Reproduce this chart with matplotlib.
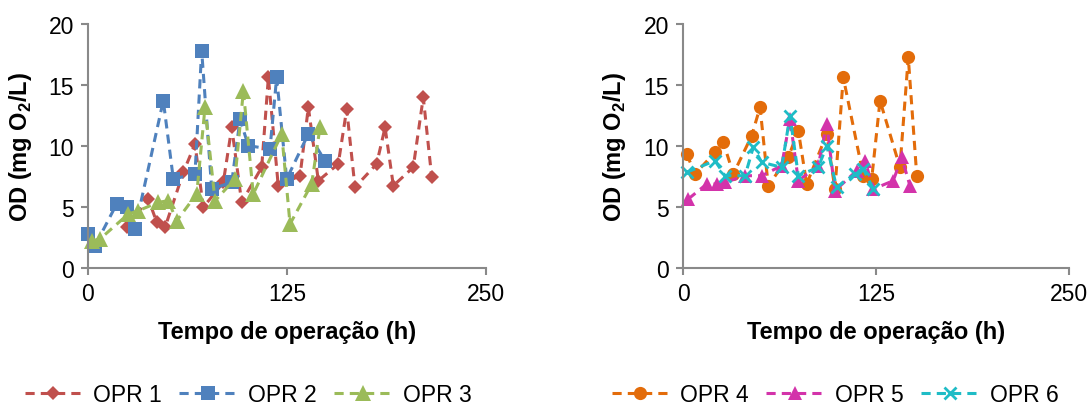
import matplotlib
matplotlib.use("Agg")
import matplotlib.pyplot as plt

plt.rcParams['font.family'] = ['Liberation Sans', 'DejaVu Sans']
plt.rcParams['mathtext.fontset'] = 'custom'
plt.rcParams['mathtext.rm'] = 'Liberation Sans'
plt.rcParams['mathtext.bf'] = 'Liberation Sans:bold'

# ---------------- data ----------------
opr1_t = [24.3, 37.9, 43.2, 48.4, 59.9, 67.2, 72.4, 85.0, 90.3, 96.5, 109.1, 113.3,
          119.5, 133.2, 138.4, 144.7, 157.2, 162.5, 167.7, 181.3, 186.6, 191.8,
          204.3, 210.6, 215.9]
opr1_v = [3.31, 5.63, 3.72, 3.31, 7.82, 10.14, 4.95, 7.0, 11.5, 5.36, 8.23, 15.6,
          6.72, 7.54, 13.15, 7.13, 8.5, 13.0, 6.59, 8.5, 11.5, 6.72,
          8.23, 13.97, 7.41]

opr2_t = [0.2, 4.4, 18.0, 24.3, 29.5, 47.3, 53.6, 67.2, 71.4, 77.7, 90.3, 95.5,
          100.7, 114.3, 118.5, 124.8, 138.4, 148.9]
opr2_v = [2.75, 1.8, 5.22, 4.95, 3.17, 13.69, 7.27, 7.68, 17.79, 6.45, 7.0, 12.17,
          10.0, 9.73, 15.6, 7.27, 10.96, 8.77]

opr3_t = [2.3, 7.5, 25.3, 31.6, 44.2, 50.4, 55.7, 68.3, 73.5, 79.8, 92.3, 97.6,
          103.8, 121.7, 126.9, 140.5, 145.7]
opr3_v = [2.21, 2.35, 4.40, 4.67, 5.36, 5.49, 3.85, 6.04, 13.15, 5.49, 7.27, 14.5,
          6.04, 10.96, 3.58, 6.86, 11.5]

opr4_t = [2.4, 7.8, 20.7, 26.1, 32.6, 44.5, 49.9, 55.2, 68.2, 74.7, 80.1, 93.1,
          98.4, 103.8, 116.8, 122.2, 127.6, 140.5, 145.9, 151.4]
opr4_v = [9.32, 7.68, 9.46, 10.28, 7.68, 10.82, 13.15, 6.72, 9.05, 11.23, 6.86, 10.96,
          6.45, 15.6, 7.54, 7.27, 13.69, 8.23, 17.25, 7.54]

opr5_t = [3.4, 15.4, 21.8, 27.2, 40.2, 51.0, 63.9, 69.3, 74.7, 87.6, 93.1, 98.4,
          112.5, 117.9, 123.3, 136.2, 141.6, 147.0]
opr5_v = [5.63, 6.86, 6.86, 7.0, 7.54, 7.54, 8.36, 12.19, 7.13, 8.36, 11.78, 6.31,
          7.95, 8.77, 6.45, 7.13, 9.05, 6.72]

opr6_t = [2.4, 20.7, 27.2, 40.2, 45.5, 51.0, 63.9, 69.3, 74.7, 87.6, 93.1, 99.5,
          111.4, 116.8, 123.3]
opr6_v = [7.82, 8.77, 7.54, 7.54, 9.87, 8.64, 8.23, 12.46, 7.54, 8.23, 10.0, 6.59,
          7.68, 8.09, 6.45]

labels_left = ['OPR 1', 'OPR 2', 'OPR 3']
labels_right = ['OPR 4', 'OPR 5', 'OPR 6']
x_ticks = [0, 125, 250]
y_ticks = [0, 5, 10, 15, 20]

# ---------------- styling ----------------
FS = 16.5
FS_LAB = 17
spine_col = '#898989'
styles_left = [
    dict(color='#C0504D', marker='D', ms=6.8),
    dict(color='#4F81BD', marker='s', ms=10),
    dict(color='#9BBB59', marker='^', ms=11),
]
styles_right = [
    dict(color='#E36C0A', marker='o', ms=9.5),
    dict(color='#D333AA', marker='^', ms=10.5),
    dict(color='#1FBCC6', marker='x', ms=9, mew=2.0),
]

fig = plt.figure(figsize=(10.9, 4.1), dpi=100)
axL = fig.add_axes([88/1090, 1-268.7/410, 398/1090, 244/410])
axR = fig.add_axes([683/1090, 1-268.7/410, 386/1090, 244/410])


def style_axis(ax):
    ax.set_xlim(0, 250)
    ax.set_ylim(0, 20)
    ax.set_xticks(x_ticks)
    ax.set_yticks(y_ticks)
    for s in ['top', 'right']:
        ax.spines[s].set_visible(False)
    for s in ['left', 'bottom']:
        ax.spines[s].set_color(spine_col)
        ax.spines[s].set_linewidth(1.5)
    ax.tick_params(axis='both', direction='out', length=5, width=1.5,
                   color=spine_col, labelsize=FS, pad=5)
    ax.set_xlabel('Tempo de operação (h)', fontsize=FS_LAB, fontweight='bold')
    ax.set_ylabel(r'OD (mg O$_\mathbf{2}$/L)', fontsize=FS_LAB, fontweight='bold')
    ax.patch.set_alpha(0)


def draw(ax, series, styles, labels):
    handles = []
    for (t, v), st, lab in zip(series, styles, labels):
        st = dict(st)
        mew = st.pop('mew', 0)
        ln, = ax.plot(t, v, linestyle=(0, (3, 2)), lw=2.2, color=st['color'],
                      marker=st['marker'], ms=st['ms'], mec=st['color'],
                      mfc=st['color'], mew=mew, label=lab, clip_on=False)
        handles.append(ln)
    return handles


hL = draw(axL, [(opr1_t, opr1_v), (opr2_t, opr2_v), (opr3_t, opr3_v)],
          styles_left, labels_left)
hR = draw(axR, [(opr4_t, opr4_v), (opr5_t, opr5_v), (opr6_t, opr6_v)],
          styles_right, labels_right)

for ax in (axL, axR):
    style_axis(ax)
axL.yaxis.set_label_coords(-0.136, 0.5)
axR.yaxis.set_label_coords(-0.142, 0.5)
axL.xaxis.set_label_coords(0.5, -0.215)
axR.xaxis.set_label_coords(0.5, -0.215)

leg_kw = dict(loc='center', ncol=3, frameon=False, fontsize=FS,
              handlelength=2.5, handletextpad=0.5, columnspacing=0.75,
              borderaxespad=0, borderpad=0)
fig.legend(handles=hL, bbox_to_anchor=(248/1090, 1-396/410), **leg_kw)
fig.legend(handles=hR, bbox_to_anchor=(835/1090, 1-396/410), **leg_kw)

fig.savefig('out.png', dpi=100)
